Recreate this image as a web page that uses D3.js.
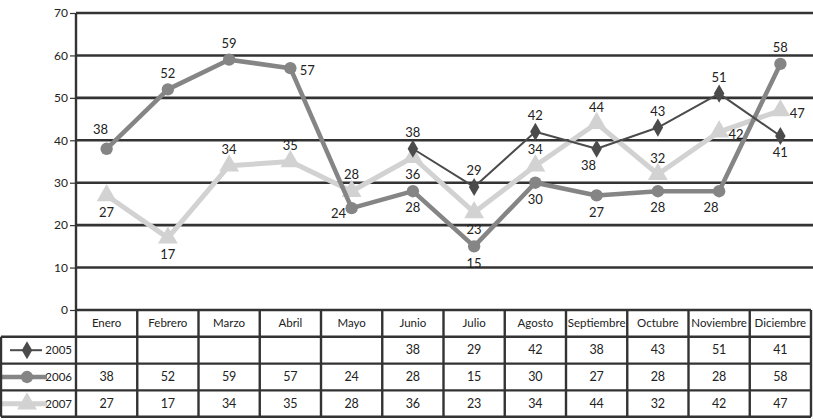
<!DOCTYPE html>
<html>
<head>
<meta charset="utf-8">
<script src="https://cdn.jsdelivr.net/npm/d3@7"></script>
<style>
  html, body { margin: 0; padding: 0; background: #fff; }
  svg { display: block; font-family: Lato, "Open Sans", sans-serif; }
</style>
</head>
<body>
<svg id="chart" width="813" height="420"></svg>
<script>
// Months shown along the x axis and in the data table
const months = ["Enero", "Febrero", "Marzo", "Abril", "Mayo", "Junio", "Julio",
                "Agosto", "Septiembre", "Octubre", "Noviembre", "Diciembre"];

// Yearly series (null = no data for that month)
const years = ["2005", "2006", "2007"];
const values2005 = [null, null, null, null, null, 38, 29, 42, 38, 43, 51, 41];
const values2006 = [38, 52, 59, 57, 24, 28, 15, 30, 27, 28, 28, 58];
const values2007 = [27, 17, 34, 35, 28, 36, 23, 34, 44, 32, 42, 47];

// Y axis ticks
const yTicks = [0, 10, 20, 30, 40, 50, 60, 70];

// Where each point's value label sits relative to its marker
const place2005 = [null, null, null, null, null, "above", "above", "above", "belowLeft", "above", "above", "below"];
const place2006 = ["aboveLeft", "above", "above", "right", "left", "below", "below", "below", "below", "below", "belowLeft", "above"];
const place2007 = ["below", "below", "above", "above", "above", "below", "below", "above", "above", "above", "right", "right"];

const series = [
  { year: "2005", values: values2005, place: place2005, color: "#4b4b4b", width: 2,   marker: "diamond",  key: [10, 42] },
  { year: "2006", values: values2006, place: place2006, color: "#858585", width: 4.5, marker: "circle",   key: [1, 47] },
  { year: "2007", values: values2007, place: place2007, color: "#d2d2d2", width: 5,   marker: "triangle", key: [1, 47] }
];

const svg = d3.select("#chart");
const gridColor = "#333";

const plotLeft = 76, plotRight = 811, plotTop = 13, plotBottom = 310;
const x = d3.scaleBand().domain(months).range([plotLeft, plotRight]);
const y = d3.scaleLinear().domain([0, 70]).range([plotBottom, plotTop]);
const cx = m => x(m) + x.bandwidth() / 2;

// Horizontal gridlines
svg.append("g")
  .selectAll("line")
  .data(yTicks.filter(t => t > 0))
  .join("line")
  .attr("x1", plotLeft).attr("x2", 813)
  .attr("y1", d => y(d)).attr("y2", d => y(d))
  .attr("stroke", gridColor).attr("stroke-width", 2.6);

// Y axis
const yAxis = d3.axisLeft(y).tickValues(yTicks).tickSize(6).tickPadding(2);
const yg = svg.append("g").attr("transform", `translate(${plotLeft},0)`).call(yAxis);
yg.select(".domain").attr("stroke", gridColor).attr("stroke-width", 2.4)
  .attr("d", `M0,${plotTop}V${plotBottom}`);
yg.selectAll(".tick line").attr("stroke", gridColor).attr("stroke-width", 1.2);
yg.selectAll(".tick text").attr("font-size", 12).attr("fill", "#222")
  .attr("font-family", "Lato, 'Open Sans', sans-serif");

// Marker shapes
const symbolFor = {
  diamond: d3.symbol().type(d3.symbolDiamond).size(95),
  circle: d3.symbol().type(d3.symbolCircle).size(120),
  triangle: d3.symbol().type(d3.symbolTriangle).size(170)
};

const labelOffset = {
  above: [0, -15],
  aboveLeft: [-6, -18],
  below: [0, 18],
  belowLeft: [-8, 18],
  left: [-13, 7],
  right: [17, 4]
};

const drawOrder = [series[2], series[1], series[0]];

drawOrder.forEach(s => {
  const pts = months.map((m, i) => ({ m, v: s.values[i], p: s.place[i] }));
  const line = d3.line()
    .defined(d => d.v !== null)
    .x(d => cx(d.m))
    .y(d => y(d.v));
  const g = svg.append("g");
  g.append("path")
    .datum(pts)
    .attr("d", line)
    .attr("fill", "none")
    .attr("stroke", s.color)
    .attr("stroke-width", s.width)
    .attr("stroke-linejoin", "round");
  g.selectAll("path.mk")
    .data(pts.filter(d => d.v !== null))
    .join("path")
    .attr("class", "mk")
    .attr("d", symbolFor[s.marker])
    .attr("transform", d => `translate(${cx(d.m)},${y(d.v)})`)
    .attr("fill", s.color);
});

// Value labels on top of all lines
series.forEach(s => {
  const pts = months.map((m, i) => ({ m, v: s.values[i], p: s.place[i] }))
    .filter(d => d.v !== null);
  svg.append("g")
    .selectAll("text")
    .data(pts)
    .join("text")
    .attr("x", d => cx(d.m) + labelOffset[d.p][0])
    .attr("y", d => y(d.v) + labelOffset[d.p][1])
    .attr("text-anchor", "middle")
    .attr("dominant-baseline", "middle")
    .attr("font-size", 13)
    .attr("fill", "#222")
    .text(d => d.v);
});

// Data table under the chart
const headerTop = plotBottom, rowH = 26.8;
const tableBottom = headerTop + rowH * 4 - 0.5;
const table = svg.append("g");

// Header row: month names
table.selectAll("text.hdr")
  .data(months)
  .join("text")
  .attr("class", "hdr")
  .attr("x", d => cx(d))
  .attr("y", headerTop + rowH / 2 + 1)
  .attr("text-anchor", "middle")
  .attr("dominant-baseline", "middle")
  .attr("font-size", 11.5)
  .attr("fill", "#222")
  .text(d => d);

// Value rows
series.forEach((s, r) => {
  const rowMid = headerTop + rowH * (r + 1) + rowH / 2 + 1;
  table.append("g")
    .selectAll("text")
    .data(months.map((m, i) => ({ m, v: s.values[i] })).filter(d => d.v !== null))
    .join("text")
    .attr("x", d => cx(d.m))
    .attr("y", rowMid)
    .attr("text-anchor", "middle")
    .attr("dominant-baseline", "middle")
    .attr("font-size", 12.5)
    .attr("fill", "#222")
    .text(d => d.v);

  // Legend key: line sample with marker, and year
  const key = table.append("g");
  const keyMid = 27;
  key.append("line")
    .attr("x1", s.key[0]).attr("x2", s.key[1])
    .attr("y1", rowMid - 1).attr("y2", rowMid - 1)
    .attr("stroke", s.color).attr("stroke-width", s.width);
  key.append("path")
    .attr("d", symbolFor[s.marker])
    .attr("transform", `translate(${keyMid},${rowMid - 1})`)
    .attr("fill", s.color);
  key.append("text")
    .attr("x", 72).attr("y", rowMid)
    .attr("text-anchor", "end")
    .attr("dominant-baseline", "middle")
    .attr("font-size", 11.5)
    .attr("fill", "#222")
    .text(s.year);
});

// Table grid lines
const hLines = [
  { y: headerTop, x1: plotLeft, x2: plotRight },
  { y: headerTop + rowH, x1: 1, x2: plotRight },
  { y: headerTop + rowH * 2, x1: 1, x2: plotRight },
  { y: headerTop + rowH * 3, x1: 1, x2: plotRight },
  { y: tableBottom, x1: 1, x2: plotRight }
];
table.selectAll("line.h")
  .data(hLines)
  .join("line")
  .attr("class", "h")
  .attr("x1", d => d.x1).attr("x2", d => d.x2)
  .attr("y1", d => d.y).attr("y2", d => d.y)
  .attr("stroke", gridColor).attr("stroke-width", 2.4);

const vEdges = months.map(m => x(m)).concat([plotRight]);
table.selectAll("line.v")
  .data(vEdges)
  .join("line")
  .attr("class", "v")
  .attr("x1", d => d).attr("x2", d => d)
  .attr("y1", headerTop).attr("y2", tableBottom)
  .attr("stroke", gridColor).attr("stroke-width", 2.4);
table.append("line")
  .attr("x1", 1).attr("x2", 1)
  .attr("y1", headerTop + rowH).attr("y2", tableBottom)
  .attr("stroke", gridColor).attr("stroke-width", 2.4);
</script>
</body>
</html>
